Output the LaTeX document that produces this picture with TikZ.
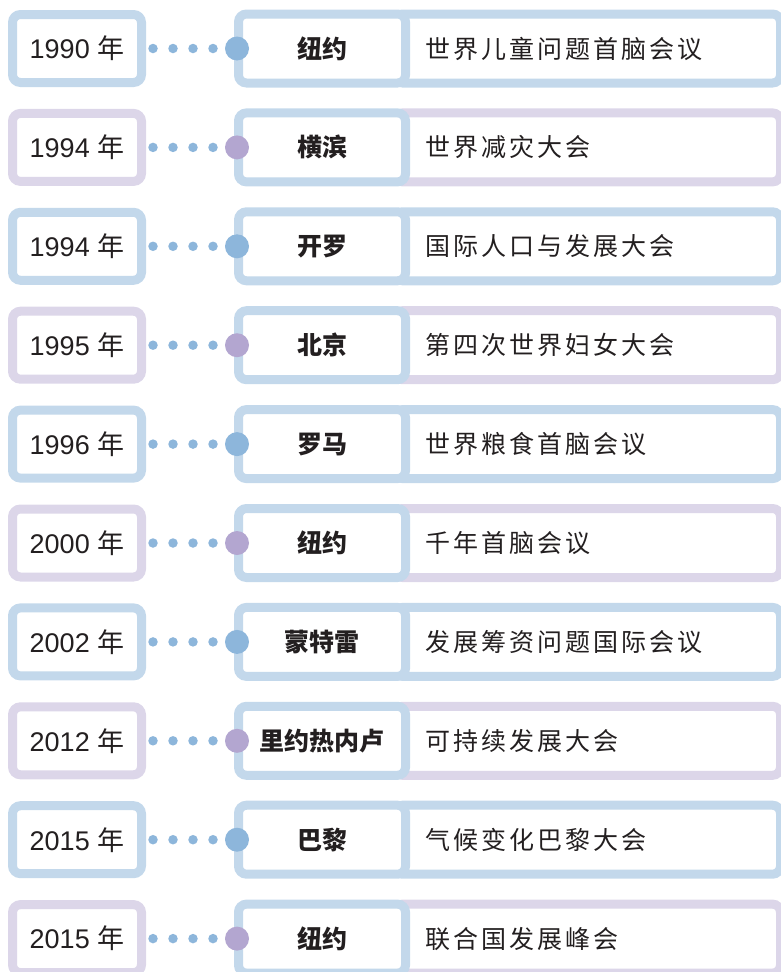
\documentclass[tikz,border=0pt]{standalone}
\usepackage{fontspec}
\setmainfont{Liberation Sans}
\newfontfamily\cjk{Noto Sans CJK SC}
\newfontfamily\cjkwide[LetterSpace=12]{Noto Sans CJK SC}
\usetikzlibrary{positioning}

\definecolor{lineblue}{HTML}{C3D8EB}
\definecolor{linepurple}{HTML}{DCD6E9}
\definecolor{dotblue}{HTML}{8DB6DB}
\definecolor{dotpurple}{HTML}{B3A6D0}
\definecolor{txtgray}{HTML}{231F20}

\tikzset{
    yearbox/.style={draw=#1, line width=9pt, rounded corners=8pt, fill=white,
        minimum width=129pt, minimum height=68pt, inner sep=0pt,
        text=txtgray, font=\fontsize{27}{27}\selectfont},
    citybox/.style={draw=lineblue, line width=9pt, rounded corners=8pt, fill=white,
        minimum width=167pt, minimum height=69pt, inner sep=0pt,
        text=txtgray, font=\cjk\bfseries\fontsize{25}{25}\selectfont},
    eventbox/.style={draw=#1, line width=9pt, rounded corners=8pt, fill=white,
        text width=325pt, inner xsep=30.5pt, inner ysep=0pt, minimum height=69pt,
        align=left, text=txtgray, font=\cjkwide\fontsize{25}{25}\selectfont},
    ring/.style={circle, fill=#1, minimum size=24pt, inner sep=0pt},
    dotline/.style={draw=dotblue, line width=9.5pt, line cap=round,
        dash pattern=on 0pt off 20pt, shorten <=7pt}
}

\begin{document}
\begin{tikzpicture}[x=1pt, y=1pt]
        \useasboundingbox (0,0) rectangle (781,-972);
        \clip (0,0) rectangle (781,-972);

        \node[yearbox=lineblue] (y1) at (77,-48.5) {1990 {\cjk 年}};
        \node[eventbox=lineblue, right=244pt of y1] (e1) {世界儿童问题首脑会议};
        \node[citybox, right=88pt of y1] (p1) {纽约};
        \node[ring=dotblue] (c1) at ([xshift=3pt] p1.west) {};
        \draw[dotline] (y1.east) -- (c1.west);

        \node[yearbox=linepurple, below=21.9pt of y1] (y2) {1994 {\cjk 年}};
        \node[eventbox=linepurple, right=244pt of y2] (e2) {世界减灾大会};
        \node[citybox, right=88pt of y2] (p2) {横滨};
        \node[ring=dotpurple] (c2) at ([xshift=3pt] p2.west) {};
        \draw[dotline] (y2.east) -- (c2.west);

        \node[yearbox=lineblue, below=21.9pt of y2] (y3) {1994 {\cjk 年}};
        \node[eventbox=lineblue, right=244pt of y3] (e3) {国际人口与发展大会};
        \node[citybox, right=88pt of y3] (p3) {开罗};
        \node[ring=dotblue] (c3) at ([xshift=3pt] p3.west) {};
        \draw[dotline] (y3.east) -- (c3.west);

        \node[yearbox=linepurple, below=21.9pt of y3] (y4) {1995 {\cjk 年}};
        \node[eventbox=linepurple, right=244pt of y4] (e4) {第四次世界妇女大会};
        \node[citybox, right=88pt of y4] (p4) {北京};
        \node[ring=dotpurple] (c4) at ([xshift=3pt] p4.west) {};
        \draw[dotline] (y4.east) -- (c4.west);

        \node[yearbox=lineblue, below=21.9pt of y4] (y5) {1996 {\cjk 年}};
        \node[eventbox=lineblue, right=244pt of y5] (e5) {世界粮食首脑会议};
        \node[citybox, right=88pt of y5] (p5) {罗马};
        \node[ring=dotblue] (c5) at ([xshift=3pt] p5.west) {};
        \draw[dotline] (y5.east) -- (c5.west);

        \node[yearbox=linepurple, below=21.9pt of y5] (y6) {2000 {\cjk 年}};
        \node[eventbox=linepurple, right=244pt of y6] (e6) {千年首脑会议};
        \node[citybox, right=88pt of y6] (p6) {纽约};
        \node[ring=dotpurple] (c6) at ([xshift=3pt] p6.west) {};
        \draw[dotline] (y6.east) -- (c6.west);

        \node[yearbox=lineblue, below=21.9pt of y6] (y7) {2002 {\cjk 年}};
        \node[eventbox=lineblue, right=244pt of y7] (e7) {发展筹资问题国际会议};
        \node[citybox, right=88pt of y7] (p7) {蒙特雷};
        \node[ring=dotblue] (c7) at ([xshift=3pt] p7.west) {};
        \draw[dotline] (y7.east) -- (c7.west);

        \node[yearbox=linepurple, below=21.9pt of y7] (y8) {2012 {\cjk 年}};
        \node[eventbox=linepurple, right=244pt of y8] (e8) {可持续发展大会};
        \node[citybox, right=88pt of y8] (p8) {里约热内卢};
        \node[ring=dotpurple] (c8) at ([xshift=3pt] p8.west) {};
        \draw[dotline] (y8.east) -- (c8.west);

        \node[yearbox=lineblue, below=21.9pt of y8] (y9) {2015 {\cjk 年}};
        \node[eventbox=lineblue, right=244pt of y9] (e9) {气候变化巴黎大会};
        \node[citybox, right=88pt of y9] (p9) {巴黎};
        \node[ring=dotblue] (c9) at ([xshift=3pt] p9.west) {};
        \draw[dotline] (y9.east) -- (c9.west);

        \node[yearbox=linepurple, below=21.9pt of y9] (y10) {2015 {\cjk 年}};
        \node[eventbox=linepurple, right=244pt of y10] (e10) {联合国发展峰会};
        \node[citybox, right=88pt of y10] (p10) {纽约};
        \node[ring=dotpurple] (c10) at ([xshift=3pt] p10.west) {};
        \draw[dotline] (y10.east) -- (c10.west);

    \end{tikzpicture}
\end{document}
